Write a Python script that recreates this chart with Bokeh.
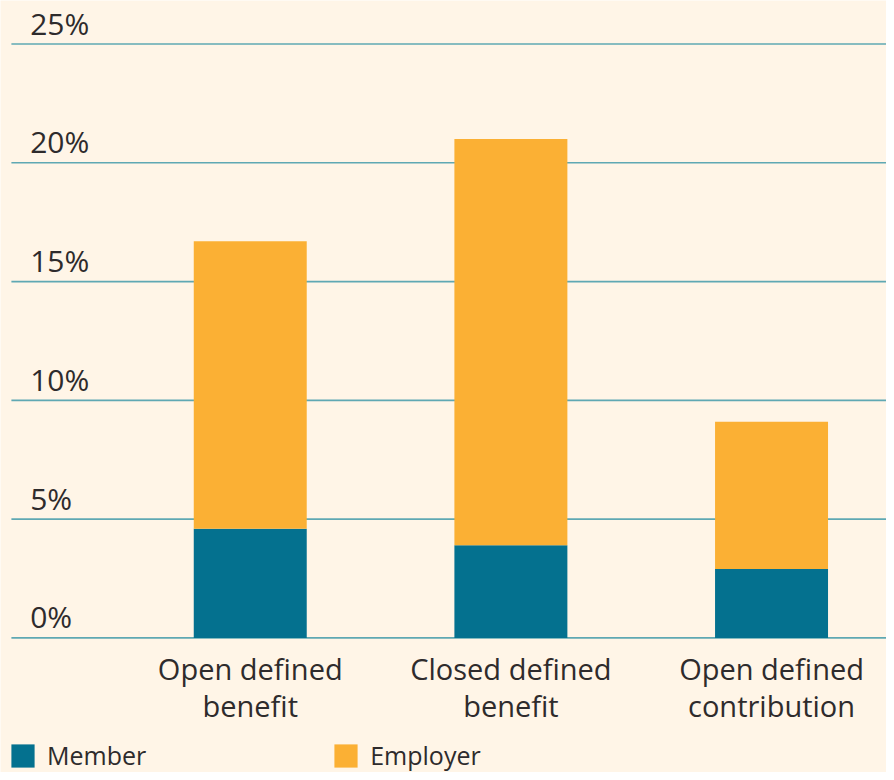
from bokeh.plotting import figure
from bokeh.models import Range1d, Legend, LegendItem, ColumnDataSource
from bokeh.core.properties import value
from bokeh.embed import file_html
from bokeh.resources import INLINE

# ---- data ----
categories = ["Open defined\nbenefit", "Closed defined\nbenefit", "Open defined\ncontribution"]
member = [4.6, 3.9, 2.9]
employer = [12.1, 17.1, 6.2]
y_ticks = [0, 5, 10, 15, 20, 25]
y_tick_labels = ["0%", "5%", "10%", "15%", "20%", "25%"]
series_names = ["Member", "Employer"]

# ---- style ----
BG = "#FFF5E7"
C_MEMBER = "#04718F"
C_EMPLOYER = "#FBB034"
GRID = "#5FA8B3"
TXT = "#2E2B2C"
FONT = "Open Sans"

W, H = 886, 772
SX, SY = W / 894.0, H / 780.0
PX_X = 263.0 * SX          # px per category
PX_Y = 24.0 * SY           # px per percent
ZERO_PX = 644 * SY         # y pixel (from top) of 0%
FIRST_PX = 252 * SX        # x pixel of first category centre

x0 = -FIRST_PX / PX_X
y0 = -(H - ZERO_PX) / PX_Y

p = figure(width=W, height=H, output_backend="svg", toolbar_location=None,
           x_range=Range1d(x0, x0 + W / PX_X), y_range=Range1d(y0, y0 + H / PX_Y),
           x_axis_location=None, y_axis_location=None, min_border=0,
           background_fill_color=BG, border_fill_color=BG, outline_line_color=None)
p.xgrid.visible = False
p.ygrid.visible = False

xs = list(range(len(categories)))

# gridlines
p.segment(x0=[x0 + 11 * SX / PX_X] * len(y_ticks), x1=[x0 + W / PX_X] * len(y_ticks),
          y0=y_ticks, y1=y_ticks, line_color=GRID, line_width=1.6)

# bars
src = ColumnDataSource(dict(x=xs, Member=member, Employer=employer))
rs = p.vbar_stack(series_names, x="x", width=114 * SX / PX_X, source=src,
                  color=[C_MEMBER, C_EMPLOYER], line_width=0)

# y tick labels
p.text(x=[x0 + 29.7 / PX_X] * len(y_ticks), y=[t + 21 / PX_Y for t in y_ticks],
       text=y_tick_labels, text_font=value(FONT), text_font_size="30px",
       text_color=TXT, text_align="left", text_baseline="alphabetic")

# category labels (two lines)
line1 = [c.split("\n")[0] for c in categories]
line2 = [c.split("\n")[1] for c in categories]
p.text(x=xs, y=[-31 / PX_Y] * len(xs), text=line1, text_font=value(FONT),
       text_font_size="29px", text_color=TXT, text_align="center", text_baseline="alphabetic")
p.text(x=xs, y=[-67.6 / PX_Y] * len(xs), text=line2, text_font=value(FONT),
       text_font_size="29px", text_color=TXT, text_align="center", text_baseline="alphabetic")

legend = Legend(items=[LegendItem(label=n, renderers=[r]) for n, r in zip(series_names, rs)],
                orientation="horizontal", location=(8, 0), padding=0, margin=0,
                spacing=185, glyph_width=29, glyph_height=29, label_standoff=10,
                label_text_font=FONT, label_text_font_size="25px", label_text_color=TXT,
                label_height=23, border_line_color=None, background_fill_alpha=0)
p.add_layout(legend)

open("out.html", "w").write(file_html(p, INLINE))
